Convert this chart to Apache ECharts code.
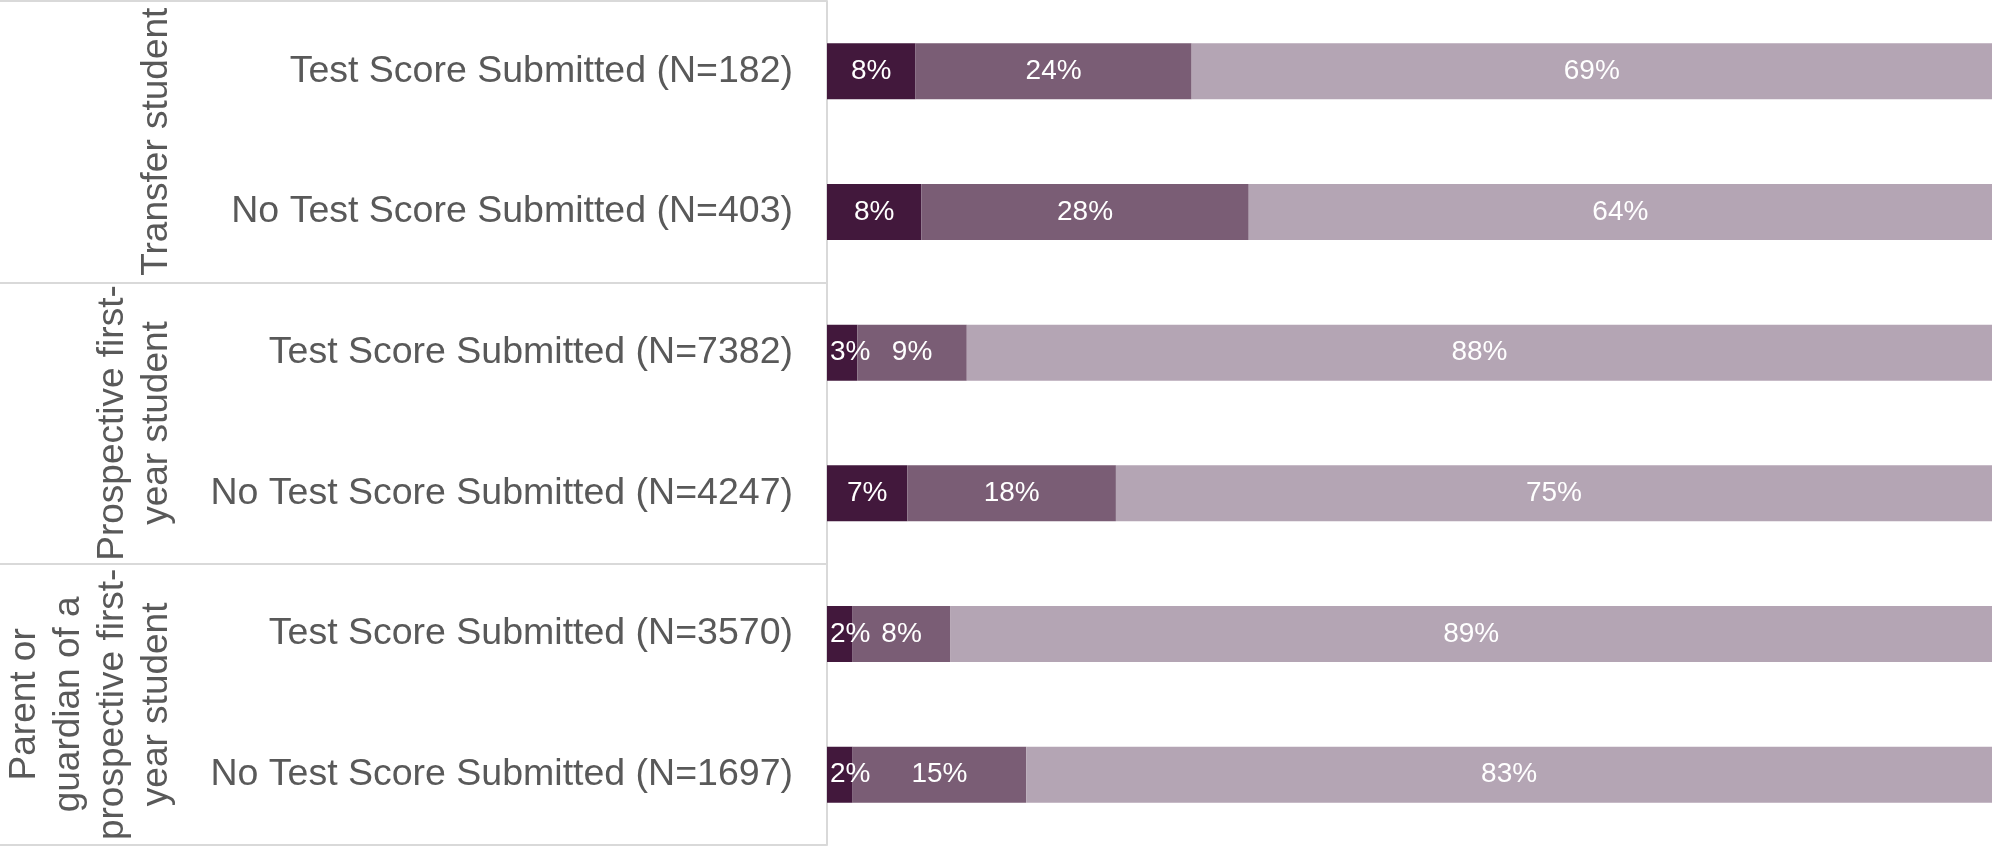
<!DOCTYPE html>
<html>
<head>
<meta charset="utf-8">
<script src="https://cdn.jsdelivr.net/npm/echarts@6/dist/echarts.min.js"></script>
<style>
    html, body { margin: 0; padding: 0; background: #fff; }
    #chart { width: 1992px; height: 846px; }
</style>
</head>
<body>
<div id="chart"></div>
<script>
// rows, top to bottom
var rows = [
    'Test Score Submitted (N=182)',
    'No Test Score Submitted (N=403)',
    'Test Score Submitted (N=7382)',
    'No Test Score Submitted (N=4247)',
    'Test Score Submitted (N=3570)',
    'No Test Score Submitted (N=1697)'
];
// groups, two rows each
var groups = [
    'Transfer student',
    'Prospective first-\nyear student',
    'Parent or\nguardian of a\nprospective first-\nyear student'
];
// percent shares per row
var darkValues  = [7.6, 8.1, 2.6, 6.9, 2.2, 2.2];
var midValues   = [23.7, 28.1, 9.4, 17.9, 8.4, 14.9];
var lightValues = [68.7, 63.8, 88.0, 75.2, 89.4, 82.9];
var colors = ['#42183c', '#7a5d75', '#b4a5b4'];

function drawStackBars(id) {
    var chart = echarts.init(document.getElementById(id));
    var font = 'Liberation Sans, Arial, sans-serif';
    var plotLeft = 827;

    function pctLabel(p) {
        return Math.round(p.value) + '%';
    }

    function makeSeries(name, data, color) {
        return {
            name: name,
            type: 'bar',
            stack: 'total',
            barWidth: 56,
            yAxisIndex: 0,
            itemStyle: { color: color },
            label: {
                show: true,
                position: 'inside',
                color: '#fff',
                fontSize: 28,
                fontFamily: font,
                formatter: pctLabel
            },
            // keep labels of thin segments inside the plot
            labelLayout: function (params) {
                var minX = plotLeft + 3;
                if (params.labelRect.x < minX) {
                    return { dx: minX - params.labelRect.x };
                }
                return {};
            },
            data: data
        };
    }

    var options = {
        animation: false,
        grid: {
            top: 1,
            left: plotLeft,
            right: 0,
            bottom: 1,
            containLabel: false,
            outerBoundsMode: 'none'
        },
        xAxis: {
            type: 'value',
            min: 0,
            max: 100,
            show: false
        },
        yAxis: [{
            type: 'category',
            position: 'left',
            inverse: true,
            data: rows,
            axisLine: {
                show: true,
                lineStyle: { color: '#d9d9d9', width: 2 }
            },
            axisTick: { show: false },
            axisLabel: {
                interval: 0,
                margin: 34,
                color: '#595959',
                fontSize: 37.5,
                fontFamily: font
            }
        }, {
            type: 'category',
            position: 'left',
            inverse: true,
            data: groups,
            axisLine: { show: false },
            axisTick: {
                show: true,
                interval: 0,
                length: plotLeft,
                lineStyle: { color: '#d9d9d9', width: 2 }
            },
            axisLabel: {
                interval: 0,
                rotate: 90,
                margin: 648,
                color: '#595959',
                fontSize: 37,
                lineHeight: 44,
                fontFamily: font
            }
        }],
        series: [
            makeSeries('dark', darkValues, colors[0]),
            makeSeries('mid', midValues, colors[1]),
            makeSeries('light', lightValues, colors[2])
        ]
    };
    chart.setOption(options);

    window.onresize = function () {
        chart.resize();
    };
}

drawStackBars('chart');
</script>
</body>
</html>
